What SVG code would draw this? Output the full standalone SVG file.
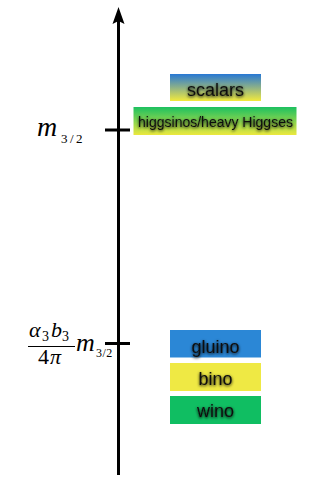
<svg xmlns="http://www.w3.org/2000/svg" width="322" height="484" viewBox="0 0 322 484">
<defs>
<linearGradient id="gScal" x1="0" y1="0" x2="0" y2="1">
<stop offset="0" stop-color="#2878d4"/>
<stop offset="1" stop-color="#f2ea3c"/>
</linearGradient>
<linearGradient id="gHig" x1="0" y1="0" x2="0" y2="1">
<stop offset="0" stop-color="#1cc060"/>
<stop offset="1" stop-color="#ece83e"/>
</linearGradient>
<filter id="glow" x="-20%" y="-50%" width="140%" height="200%">
<feGaussianBlur in="SourceAlpha" stdDeviation="1.5" result="b"/>
<feOffset in="b" dx="0" dy="1" result="o"/>
<feComponentTransfer in="o" result="s"><feFuncA type="linear" slope="1"/></feComponentTransfer>
<feMerge><feMergeNode in="s"/><feMergeNode in="SourceGraphic"/></feMerge>
</filter>
</defs>
<style>
.lbl{font-family:"Liberation Sans",Arial,sans-serif;fill:#111;text-anchor:middle;filter:url(#glow)}
.m{font-family:"Liberation Serif","Times New Roman",serif;font-style:italic;fill:#000}
.n{font-family:"Liberation Serif","Times New Roman",serif;fill:#000}
.axis{stroke:#000;stroke-width:3;fill:none}
</style>
<g id="connectors">
<line class="axis" x1="118.5" y1="475" x2="118.5" y2="20"/>
<polygon points="118.5,7 112.5,24 118.5,21 124.5,24" fill="#000"/>
<line class="axis" x1="105" y1="130" x2="130" y2="130"/>
<line class="axis" x1="105" y1="343.5" x2="130" y2="343.5"/>
</g>
<g id="label-m32">
<text class="m" x="37" y="136" font-size="28">m</text>
<text class="n" x="61" y="143" font-size="13" letter-spacing="2.5">3/2</text>
</g>
<g id="label-frac">
<text class="m" x="29" y="337" font-size="22">α</text>
<text class="n" x="42" y="341" font-size="14">3</text>
<text class="m" x="51" y="337" font-size="22">b</text>
<text class="n" x="62" y="341" font-size="14">3</text>
<line x1="28" y1="346.5" x2="75" y2="346.5" stroke="#000" stroke-width="1"/>
<text class="n" x="38" y="364" font-size="22">4</text>
<text class="m" x="50" y="364" font-size="22">π</text>
<text class="m" x="76" y="351" font-size="26">m</text>
<text class="n" x="96" y="357" font-size="12" letter-spacing="0.5">3/2</text>
</g>
<g id="scalars">
<rect x="170" y="74" width="91" height="27" fill="url(#gScal)"/>
<text class="lbl" x="215.5" y="96" font-size="18">scalars</text>
</g>
<g id="higgsinos">
<rect x="133.5" y="107" width="163" height="28" fill="url(#gHig)"/>
<text class="lbl" x="215.5" y="127" font-size="14">higgsinos/heavy Higgses</text>
</g>
<g id="gluino">
<rect x="170" y="330" width="91" height="27.5" fill="#2b87d6"/>
<text class="lbl" x="215.5" y="352.5" font-size="18">gluino</text>
</g>
<g id="bino">
<rect x="170" y="363" width="91" height="28" fill="#efe944"/>
<text class="lbl" x="215.5" y="385" font-size="18">bino</text>
</g>
<g id="wino">
<rect x="170" y="396" width="91" height="28" fill="#10be62"/>
<text class="lbl" x="215.5" y="417" font-size="18">wino</text>
</g>
</svg>
